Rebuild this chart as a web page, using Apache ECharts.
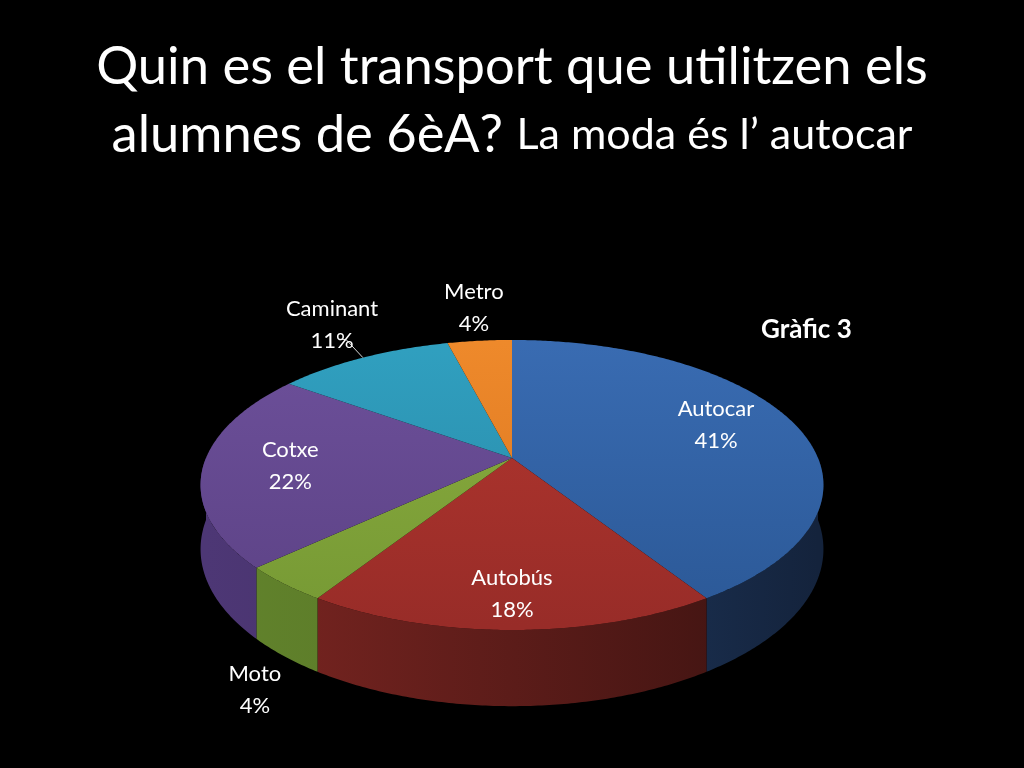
<!DOCTYPE html>
<html>
<head>
<meta charset="utf-8">
<script src="https://cdn.jsdelivr.net/npm/echarts@6/dist/echarts.min.js"></script>
<style>
html, body { margin: 0; padding: 0; background: #000; }
#chart { width: 1024px; height: 768px; }
</style>
</head>
<body>
<div id="chart"></div>
<script>
// data
var categories = ['Autocar', 'Autobús', 'Moto', 'Cotxe', 'Caminant', 'Metro'];
var percents = [41, 18, 4, 22, 11, 4];

// top face colours (light, dark) and side colours (left, right)
var topLight = ['#3a6db4', '#b5372f', '#8cae40', '#6e519c', '#31a2c2', '#f08b2c'];
var topDark = ['#2b5896', '#982c28', '#769934', '#5c4285', '#2886a4', '#d8741f'];
var sideLight = ['#2a4f82', '#7d2622', '#62832c', '#4d3775', '#1f6c84', '#b05d18'];
var sideDark = ['#14233c', '#3a1210', '#4d6a22', '#3a2858', '#164f60', '#7a3f10'];
var labelPlacement = ['inside', 'inside', 'outside', 'inside', 'leader', 'outside'];

var total = percents.reduce(function (a, b) { return a + b; }, 0);
var starts = [];
percents.reduce(function (acc, v) { starts.push(acc); return acc + v; }, 0);

// pie geometry with a little perspective
var rx = 306, ry = 140, persp = 0.186, depth = 62, apexY = 458;

function renderSlice(params, api) {
    var cx = api.getWidth() / 2, cy = apexY;
    var i = params.dataIndex;
    var t0 = api.value(0) / total * Math.PI * 2;
    var t1 = (api.value(0) + api.value(1)) / total * Math.PI * 2;

    function pt(t, r, drop) {
        var p = 1 / (1 + persp * r * Math.cos(t));
        return [cx + rx * r * Math.sin(t) * p,
                cy - ry * r * Math.cos(t) * p + (drop ? depth * p : 0)];
    }
    function arc(a, b, r, drop) {
        var n = Math.max(2, Math.ceil((b - a) / 0.01));
        var pts = [];
        for (var k = 0; k <= n; k++) pts.push(pt(a + (b - a) * k / n, r, drop));
        return pts;
    }

    var children = [];

    // visible side (front half)
    var s0 = Math.max(t0, Math.PI / 2), s1 = Math.min(t1, Math.PI * 1.5);
    if (s1 > s0) {
        var upper = arc(s0, s1, 1, false);
        var lower = arc(s0, s1, 1, true).reverse();
        children.push({
            type: 'polygon',
            shape: { points: upper.concat(lower) },
            style: {
                fill: new echarts.graphic.LinearGradient(cx - rx, 0, cx + rx, 0, [
                    { offset: 0, color: sideLight[i] },
                    { offset: 1, color: sideDark[i] }
                ], true)
            },
            z2: 1
        });
    }

    // top face
    children.push({
        type: 'polygon',
        shape: { points: [[cx, cy]].concat(arc(t0, t1, 1, false)) },
        style: {
            fill: new echarts.graphic.LinearGradient(0, cy - ry, 0, cy + ry * 1.2, [
                { offset: 0, color: topLight[i] },
                { offset: 1, color: topDark[i] }
            ], true)
        },
        z2: 5
    });

    // label
    var mid = (t0 + t1) / 2;
    var text = api.value(2) + '\n' + Math.round(api.value(1) / total * 100) + '%';
    var lx, ly;
    var place = labelPlacement[i];
    if (place === 'inside') {
        var q = pt(mid, 0.72, false);
        lx = q[0];
        ly = q[1] - 20 * Math.cos(mid);
    } else {
        var e = pt(mid, 1, Math.cos(mid) < 0);
        var d = place === 'leader' ? 50 : 42;
        lx = e[0] + Math.sin(mid) * d * 1.1;
        ly = e[1] - Math.cos(mid) * d * (Math.cos(mid) < 0 ? 1.05 : 0.8);
        if (place === 'leader') {
            var m = [e[0] + (lx - e[0]) * 0.55, e[1] + (ly - e[1]) * 0.55];
            children.push({
                type: 'polyline',
                shape: { points: [e, m, [m[0] - 6, m[1]]] },
                style: { stroke: '#d9d9d9', lineWidth: 1, fill: null },
                z2: 8
            });
        }
    }
    children.push({
        type: 'text',
        x: lx,
        y: ly,
        style: {
            text: text,
            fill: '#fff',
            fontSize: 22,
            fontFamily: 'Lato',
            align: 'center',
            verticalAlign: 'middle',
            lineHeight: 32
        },
        z2: 10
    });

    return { type: 'group', children: children };
}

var chart = echarts.init(document.getElementById('chart'));
chart.setOption({
    backgroundColor: '#000',
    animation: false,
    title: [{
        text: '{a|Quin es el transport que utilitzen els}\n{a|alumnes de 6èA? }{b|La moda és l’ autocar}',
        left: 'center',
        top: 28,
        textStyle: {
            fontWeight: 'normal',
            rich: {
                a: { fontSize: 52.5, color: '#fff', fontFamily: 'Lato', fontWeight: 'normal', lineHeight: 68 },
                b: { fontSize: 43, color: '#fff', fontFamily: 'Lato', fontWeight: 'normal', lineHeight: 68 }
            }
        }
    }, {
        text: 'Gràfic 3',
        left: 756,
        top: 312,
        textStyle: { color: '#fff', fontSize: 26, fontWeight: 'bold', fontFamily: 'Lato' }
    }],
    series: [{
        type: 'custom',
        coordinateSystem: 'none',
        renderItem: renderSlice,
        silent: true,
        data: percents.map(function (v, i) {
            return { name: categories[i], value: [starts[i], v, categories[i]] };
        })
    }]
});
</script>
</body>
</html>
